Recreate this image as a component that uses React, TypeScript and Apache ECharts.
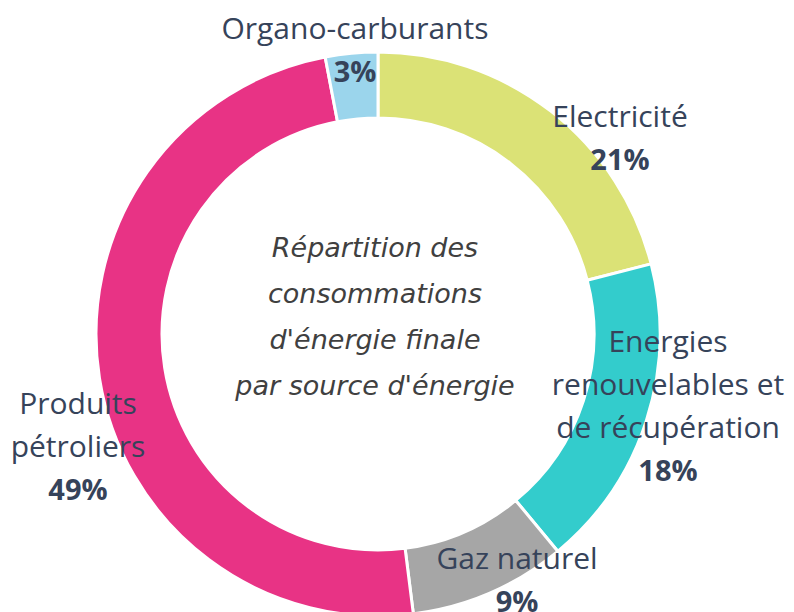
import React, { useEffect, useRef } from "react";
import * as echarts from "echarts";

const categories = [
  "Electricité",
  "Energies\nrenouvelables et\nde récupération",
  "Gaz naturel",
  "Produits\npétroliers",
  "Organo-carburants",
];
const shares = [21, 18, 9, 49, 3];
const colors = ["#dbe276", "#33cccc", "#a6a6a6", "#e83385", "#9bd5ec"];
const centerTitle = "Répartition des\nconsommations\nd'énergie finale\npar source d'énergie";
// label block centres (layout only)
const labelPos: [number, number][] = [
  [620, 137],
  [668, 405],
  [517, 579],
  [78, 445],
  [355, 49],
];

const FONT = "'Open Sans', 'Noto Sans', sans-serif";
const CENTER_FONT = "'DejaVu Sans', 'Open Sans', sans-serif";

export default function App() {
  const ref = useRef<HTMLDivElement>(null);
  useEffect(() => {
    if (!ref.current) return;
    const chart = echarts.init(ref.current, undefined, { renderer: "svg" });
    chart.setOption({
      animation: false,
      backgroundColor: "#ffffff",
      graphic: [
        {
          type: "text",
          x: 375,
          y: 316,
          style: {
            text: centerTitle,
            align: "center",
            verticalAlign: "middle",
            font: `italic 27px ${CENTER_FONT}`,
            lineHeight: 46,
            fill: "#404040",
          },
        },
      ],
      series: [
        {
          type: "pie",
          center: [378, 334],
          radius: [216, 282],
          startAngle: 90,
          clockwise: true,
          avoidLabelOverlap: false,
          itemStyle: { borderColor: "#ffffff", borderWidth: 3 },
          label: {
            show: true,
            position: "outside",
            formatter: (p: any) =>
              p.name
                .split("\n")
                .map((l: string) => `{n|${l}}`)
                .join("\n") + `\n{p|${p.value}%}`,
            rich: {
              n: {
                fontFamily: FONT,
                fontSize: 30,
                color: "#36435a",
                lineHeight: 43,
                align: "center",
              },
              p: {
                fontFamily: FONT,
                fontSize: 29,
                fontWeight: "bold",
                color: "#36435a",
                lineHeight: 43,
                align: "center",
              },
            },
          },
          labelLine: { show: false },
          labelLayout: (params: any) => {
            const pos = labelPos[params.dataIndex];
            return { x: pos[0], y: pos[1], align: "center", verticalAlign: "middle" };
          },
          emphasis: { disabled: true },
          data: categories.map((c, i) => ({
            name: c,
            value: shares[i],
            itemStyle: { color: colors[i] },
          })),
        },
      ],
    });
    return () => chart.dispose();
  }, []);
  return (
    <div
      ref={ref}
      style={{ position: "fixed", left: 0, top: 0, width: 794, height: 612 }}
    />
  );
}
